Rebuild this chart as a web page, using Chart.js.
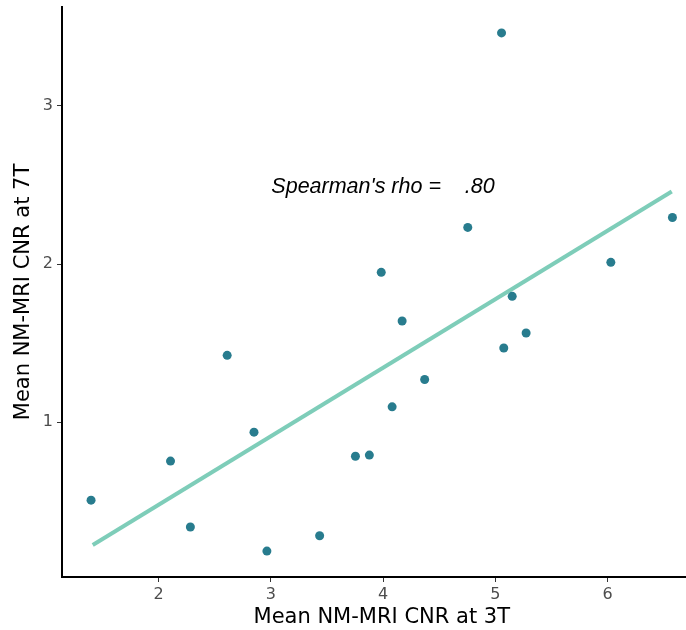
<!DOCTYPE html>
<html>
<head>
<meta charset="utf-8">
<script src="https://cdn.jsdelivr.net/npm/chart.js@4"></script>
<style>
  html, body { margin: 0; padding: 0; background: #fff; overflow: hidden; }
  #wrap { width: 706px; height: 630px; }
</style>
</head>
<body>
<div id="wrap"><canvas id="cnrChart" width="706" height="630"></canvas></div>
<script>
// Mean NM-MRI contrast-to-noise per subject, 3T vs 7T
const cnr3T = [1.398, 2.106, 2.283, 2.611, 2.850, 2.965, 3.435, 3.754, 3.878, 3.984,
               4.081, 4.170, 4.371, 4.755, 5.056, 5.076, 5.151, 5.275, 6.030, 6.579];
const cnr7T = [0.507, 0.754, 0.337, 1.423, 0.937, 0.185, 0.282, 0.785, 0.792, 1.948,
               1.097, 1.640, 1.270, 2.232, 3.462, 1.469, 1.796, 1.564, 2.011, 2.295];

// linear fit endpoints
const fitX = [1.413, 6.573];
const fitY = [0.223, 2.459];

const xTicks = [2, 3, 4, 5, 6];
const yTicks = [1, 2, 3];

const rhoText = "Spearman's rho =    .80";
const rhoAt = { x: 4.0, y: 2.447 };

const points = cnr3T.map((x, i) => ({ x: x, y: cnr7T[i] }));
const fitLine = fitX.map((x, i) => ({ x: x, y: fitY[i] }));

// annotation text drawn in data coordinates
const rhoLabel = {
  id: 'rhoLabel',
  afterDatasetsDraw(chart) {
    const ctx = chart.ctx;
    const px = chart.scales.x.getPixelForValue(rhoAt.x);
    const py = chart.scales.y.getPixelForValue(rhoAt.y);
    ctx.save();
    ctx.font = 'italic 21.5px "Liberation Sans", Arial, sans-serif';
    ctx.fillStyle = '#000';
    ctx.textAlign = 'center';
    ctx.textBaseline = 'alphabetic';
    ctx.fillText(rhoText, px, py);
    ctx.restore();
  }
};

// fixed axis boxes, no extra label padding
function fixBox(size) {
  return s => {
    if (s.isHorizontal()) s.height = size; else s.width = size;
    s.paddingTop = 0; s.paddingBottom = 0; s.paddingLeft = 0; s.paddingRight = 0;
  };
}

const tickFont = { family: '"DejaVu Sans", Verdana, sans-serif', size: 16 };
const titleFont = { family: '"DejaVu Sans", Verdana, sans-serif', size: 21 };

new Chart(document.getElementById('cnrChart'), {
  type: 'scatter',
  data: {
    datasets: [
      {
        data: points,
        backgroundColor: '#287c8e',
        borderWidth: 0,
        pointRadius: 4.5,
        pointHoverRadius: 4.5,
        order: 0
      },
      {
        type: 'line',
        data: fitLine,
        borderColor: '#7ecdb9',
        borderWidth: 4,
        pointRadius: 0,
        fill: false,
        order: 1
      }
    ]
  },
  options: {
    responsive: false,
    animation: false,
    devicePixelRatio: 1,
    layout: { padding: { top: 7, right: 0, bottom: 0, left: 0 } },
    plugins: {
      legend: { display: false },
      tooltip: { enabled: false }
    },
    scales: {
      x: {
        type: 'linear',
        min: 1.139,
        max: 6.838,
        afterBuildTicks: s => { s.ticks = xTicks.map(v => ({ value: v })); },
        afterFit: fixBox(53),
        grid: { display: true, drawOnChartArea: false, drawTicks: true, tickLength: 5, color: '#333' },
        border: { display: true, color: '#000', width: 2 },
        ticks: { color: '#4d4d4d', font: tickFont, padding: 3, maxRotation: 0 },
        title: { display: true, text: 'Mean NM-MRI CNR at 3T', color: '#000', font: titleFont, padding: { top: 0, bottom: 0 } }
      },
      y: {
        type: 'linear',
        min: 0.021,
        max: 3.626,
        afterBuildTicks: s => { s.ticks = yTicks.map(v => ({ value: v })); },
        afterFit: fixBox(62),
        grid: { display: true, drawOnChartArea: false, drawTicks: true, tickLength: 5, color: '#333' },
        border: { display: true, color: '#000', width: 2 },
        ticks: { color: '#4d4d4d', font: tickFont, padding: 4 },
        title: { display: true, text: 'Mean NM-MRI CNR at 7T', color: '#000', font: titleFont, padding: { top: 11, bottom: 0 } }
      }
    }
  },
  plugins: [rhoLabel]
});
</script>
</body>
</html>
